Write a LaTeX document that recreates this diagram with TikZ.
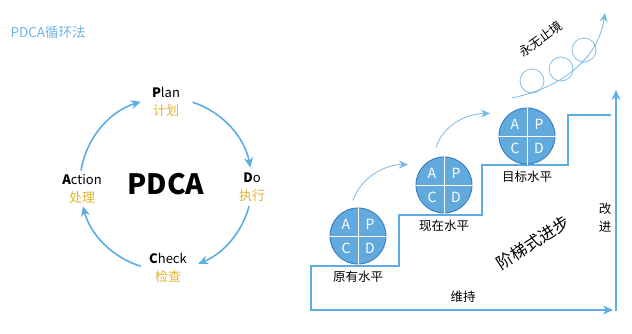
\documentclass[tikz,border=0pt]{standalone}
\usepackage{fontspec}
\setmainfont{Noto Sans CJK SC}
\usepackage{xcolor}
\usepackage{tikz}
\usetikzlibrary{arrows.meta,positioning}
\definecolor{pdblue}{RGB}{93,173,226}
\definecolor{titleblue}{RGB}{110,180,230}
\definecolor{pdgold}{RGB}{228,178,45}
\definecolor{apcdfill}{RGB}{98,170,222}
\definecolor{apcdedge}{RGB}{60,130,192}
\definecolor{bubblue}{RGB}{130,190,235}

\begin{document}
\begin{tikzpicture}[x=1pt, y=-1pt,
    stagebox/.style={align=center, text=black, font=\fontsize{13}{18}\selectfont},
    apcdbox/.style={circle, draw=apcdedge, fill=apcdfill, line width=1pt, minimum size=56pt, inner sep=0pt},
    quadtext/.style={text=white, font=\fontsize{14}{14}\selectfont},
    lvltext/.style={text=black, font=\fontsize{12.5}{12.5}\selectfont},
    arr/.style={-{Stealth[length=10pt, width=9pt]}, line width=1.6pt, draw=pdblue},
    thinarr/.style={-{Stealth[length=9pt, width=8pt]}, line width=0.8pt, draw=pdblue!85},
    stairline/.style={-{Stealth[length=10pt, width=9pt]}, line width=2pt, draw=pdblue, line join=miter},
    bubble/.style={circle, draw=bubblue, line width=0.8pt, minimum size=24pt, inner sep=0pt},
  ]
    \useasboundingbox (0,0) rectangle (632,333);

    % Title
    \node[anchor=west, text=titleblue, font=\fontsize{13.5}{13.5}\selectfont] (title) at (7,32) {PDCA循环法};

    % PDCA cycle
    \node[font=\fontsize{28}{28}\selectfont\bfseries] (pdca) at (166,184) {PDCA};
    \node[stagebox] (plan) at (166,102) {\textbf{P}lan\\{\color{pdgold}计划}};
    \node[stagebox] (do) at (252,187) {\textbf{D}o\\{\color{pdgold}执行}};
    \node[stagebox] (check) at (168,268) {\textbf{C}heck\\{\color{pdgold}检查}};
    \node[stagebox] (act) at (82,189) {\textbf{A}ction\\{\color{pdgold}处理}};

    % Cycle arrows
    \draw[arr] ([shift={(-171:86)}]pdca.center) arc (-171:-107:86);
    \draw[arr] ([shift={(-72:86)}]pdca.center) arc (-72:-11:86);
    \draw[arr] ([shift={(15:86)}]pdca.center) arc (15:68:86);
    \draw[arr] ([shift={(107:86)}]pdca.center) arc (107:165:86);

    % Staircase
    \draw[stairline] (611,115) -- (568,115) -- (568,165) -- (482,165) -- (482,215)
      -- (399,215) -- (399,266) -- (311,266) -- (311,310) -- (613,310);
    \draw[arr, line width=2pt] (616,311) -- (616,90);

    % APCD wheels
    \foreach \nm/\px/\py/\lbl in {low/358/236/原有水平, now/444/185/现在水平, aim/527/136/目标水平} {
      \node[apcdbox] (\nm) at (\px,\py) {};
      \draw[white, line width=0.9pt] (\nm.north) -- (\nm.south) (\nm.west) -- (\nm.east);
      \node[quadtext] (\nm-a) at ([shift={(-12,-12)}]\nm.center) {A};
      \node[quadtext] (\nm-p) at ([shift={(12,-12)}]\nm.center) {P};
      \node[quadtext] (\nm-c) at ([shift={(-12,12)}]\nm.center) {C};
      \node[quadtext] (\nm-d) at ([shift={(12,12)}]\nm.center) {D};
      \node[lvltext, below=3pt of \nm] (\nm-lbl) {\lbl};
    }

    % Rising arrows
    \draw[thinarr] ([shift={(-5,-7)}]low.north) .. controls +(8,-24) and +(-22,0) .. ([shift={(-36,8)}]now.north);
    \draw[thinarr] ([shift={(-8,-9)}]now.north) .. controls +(8,-24) and +(-22,0) .. ([shift={(-37,6)}]aim.north);

    % Endless improvement
    \coordinate (ev0) at (512,98);
    \coordinate (ev1) at (605,13);
    \draw[thinarr] (ev0) .. controls (560,88) and (598,60) .. (ev1);
    \foreach \i/\bx/\by in {1/532/81, 2/561/69, 3/584/50}
      \node[bubble] (b\i) at (\bx,\by) {};
    \node[rotate=36, text=black, font=\fontsize{12.5}{12.5}\selectfont] (endless) at (541,39) {永无止境};

    % Labels
    \node[lvltext] (keep) at (463,297) {维持};
    \node[align=center, text=black, font=\fontsize{12.5}{18}\selectfont] (improve) at (605,218) {改\\进};
    \node[rotate=33, text=black, font=\fontsize{16.5}{16.5}\selectfont] (stairs) at (533,243) {阶梯式进步};

  \end{tikzpicture}
\end{document}
